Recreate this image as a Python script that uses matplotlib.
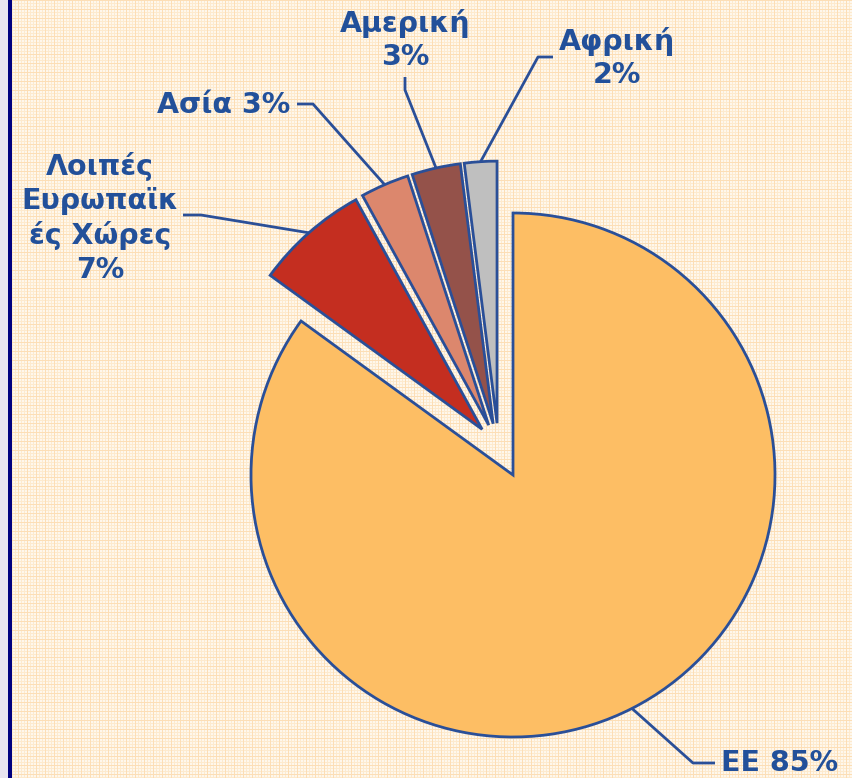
import numpy as np
import matplotlib.pyplot as plt
from matplotlib.patches import Rectangle

regions = ["ΕΕ", "Λοιπές\nΕυρωπαϊκ\nές Χώρες", "Ασία", "Αμερική", "Αφρική"]
shares = [85, 7, 3, 3, 2]
colors = ["#FDBE64", "#C42E20", "#DC876D", "#94524A", "#BFBFBF"]
label_texts = ["ΕΕ 85%", "Λοιπές\nΕυρωπαϊκ\nές Χώρες\n7%", "Ασία 3%", "Αμερική\n3%", "Αφρική\n2%"]

edge_blue = "#2A4F98"
text_blue = "#22509A"

W, H = 852, 778
cx_px, cy_px, r_px = 513, 475, 262

fig = plt.figure(figsize=(W / 100, H / 100), dpi=100)
fig.patch.set_facecolor("#FDF3E4")

# checked cream background
bg = fig.add_axes([0, 0, 1, 1], zorder=0)
yy, xx = np.indices((H, W))
img = np.ones((H, W, 3)) * np.array([254, 247, 236]) / 255
fine = (xx % 3 == 0) | (yy % 3 == 0)
coarse = (xx % 9 == 0) | (yy % 9 == 0)
img[fine] = np.array([253, 234, 206]) / 255
img[coarse] = np.array([252, 222, 182]) / 255
bg.imshow(img, interpolation="nearest", aspect="auto")
bg.axis("off")

# left frame
fig.patches.append(Rectangle((0, 0), 8 / W, 1, transform=fig.transFigure,
                             facecolor="#E8E4F0", edgecolor="none", zorder=1))
fig.patches.append(Rectangle((8 / W, 0), 4 / W, 1, transform=fig.transFigure,
                             facecolor="#000080", edgecolor="none", zorder=1))

ax = fig.add_axes([0, 0, 1, 1], zorder=2)
ax.patch.set_alpha(0)

explode = [0, 0.095, 0.095, 0.095, 0.095]
wedges, _ = ax.pie(shares, startangle=90, counterclock=False, colors=colors,
                   explode=explode, radius=1,
                   wedgeprops=dict(edgecolor=edge_blue, linewidth=2.0))

# the exploded group sits a little up and to the left
shift = np.array([-14.4, 27.0]) / r_px
for w in wedges[1:]:
    c = np.array(w.center)
    w.set_center(tuple(c + shift))

ax.set_xlim((0 - cx_px) / r_px, (W - cx_px) / r_px)
ax.set_ylim((cy_px - H) / r_px, (cy_px - 0) / r_px)
ax.axis("off")


def px(x, y):
    return (x - cx_px) / r_px, (cy_px - y) / r_px


# label positions (pixel) and leader elbow points (pixel)
label_pos = [
    ((780, 763), [(715, 763), (693, 763)]),
    ((100, 218), [(183, 215), (201, 215)]),
    ((224, 105), [(297, 104), (313, 104)]),
    ((405, 40), [(405, 77), (405, 90)]),
    ((617, 58), [(553, 57), (538, 57)]),
]

for w, txt, (pos, elbow) in zip(wedges, label_texts, label_pos):
    mid = np.deg2rad((w.theta1 + w.theta2) / 2)
    c = np.array(w.center)
    anchor = c + w.r * np.array([np.cos(mid), np.sin(mid)])
    pts = [px(*p) for p in elbow] + [tuple(anchor)]
    ax.plot([p[0] for p in pts], [p[1] for p in pts], color=edge_blue,
            lw=2.0, solid_capstyle="butt", zorder=5)
    ax.text(*px(*pos), txt, ha="center", va="center", fontsize=20.5,
            fontweight="bold", color=text_blue, family="DejaVu Sans",
            linespacing=1.27, zorder=6)

fig.savefig("out.png", dpi=100, facecolor=fig.get_facecolor())
